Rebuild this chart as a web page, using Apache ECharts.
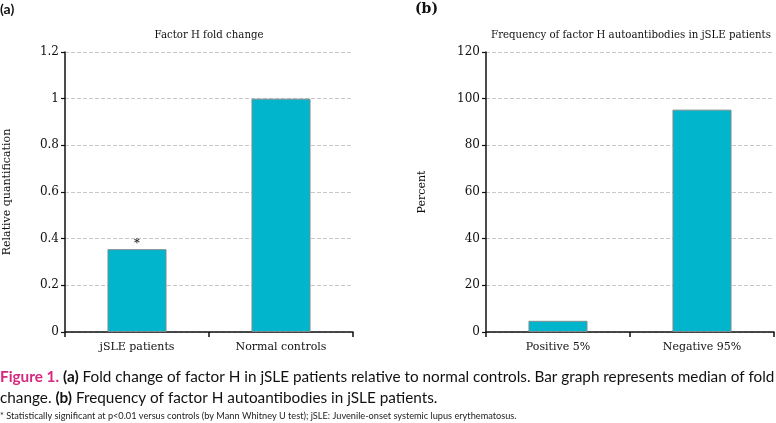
<!DOCTYPE html>
<html>
<head>
<meta charset="utf-8">
<script src="https://cdn.jsdelivr.net/npm/echarts@6/dist/echarts.min.js"></script>
<style>
  html, body { margin: 0; padding: 0; background: #fff; }
  #fig { width: 776px; height: 423px; }
</style>
</head>
<body>
<div id="fig"></div>
<script>
// panel (a)
var foldCategories = ['jSLE patients', 'Normal controls'];
var foldValues = [0.355, 1.0];
var foldMarks = ['*', ''];
// panel (b)
var freqCategories = ['Positive 5%', 'Negative 95%'];
var freqValues = [4.8, 95.3];

var serif = '"DejaVu Serif", "Liberation Serif", serif';
var sans = 'Lato, "Noto Sans", sans-serif';
var barColor = '#00b5cc';

var myChart = echarts.init(document.querySelector('#fig'), null, { renderer: 'canvas' });

function yAxisOf(gridIndex, name, max, interval, gap) {
  return {
    type: 'value', gridIndex: gridIndex, min: 0, max: max, interval: interval,
    name: name, nameLocation: 'middle', nameGap: gap, nameRotate: 90,
    nameTextStyle: { fontFamily: serif, fontSize: 11, color: '#111' },
    axisLine: { show: true, lineStyle: { color: '#111', width: 1.5 } },
    axisTick: { show: true, length: 4, lineStyle: { color: '#111', width: 1.2 } },
    axisLabel: { fontFamily: serif, fontSize: 12, color: '#111', margin: 6 },
    splitLine: { show: true, lineStyle: { color: '#c8c8c8', type: [4, 2], width: 1 } }
  };
}

function xAxisOf(gridIndex, cats) {
  return {
    type: 'category', gridIndex: gridIndex, data: cats,
    axisLine: { show: true, lineStyle: { color: '#111', width: 1.5 } },
    axisTick: { show: true, length: 5, alignWithLabel: false, lineStyle: { color: '#111', width: 1.5 } },
    axisLabel: { fontFamily: serif, fontSize: 11, color: '#111', margin: 10 }
  };
}

var foldData = foldValues.map(function (v, i) {
  return { value: v, label: { show: foldMarks[i] !== '', formatter: foldMarks[i] } };
});

option = {
  animation: false,
  backgroundColor: '#fff',
  grid: [
    { left: 65, top: 52, width: 288, height: 280 },
    { left: 486, top: 52, width: 288, height: 280 }
  ],
  xAxis: [xAxisOf(0, foldCategories), xAxisOf(1, freqCategories)],
  yAxis: [
    yAxisOf(0, 'Relative quantification', 1.2, 0.2, 52),
    yAxisOf(1, 'Percent', 120, 20, 58)
  ],
  series: [
    {
      type: 'bar', xAxisIndex: 0, yAxisIndex: 0, data: foldData, barWidth: '41%',
      itemStyle: { color: barColor, borderColor: '#7f8c8f', borderWidth: 1 },
      label: { position: 'top', distance: 1, fontSize: 11, fontWeight: 'bold', color: '#222', fontFamily: serif }
    },
    {
      type: 'bar', xAxisIndex: 1, yAxisIndex: 1, data: freqValues, barWidth: '41%',
      itemStyle: { color: barColor, borderColor: '#7f8c8f', borderWidth: 1 }
    }
  ],
  graphic: [
    { type: 'text', x: 209, y: 30,
      style: { text: 'Factor H fold change', font: '10.2px ' + serif, fill: '#111', align: 'center' } },
    { type: 'text', x: 631, y: 30,
      style: { text: 'Frequency of factor H autoantibodies in jSLE patients', font: '10.2px ' + serif, fill: '#111', align: 'center' } },
    { type: 'text', left: 0, top: 2,
      style: { text: '(a)', font: 'bold 14px ' + sans, fill: '#111' } },
    { type: 'text', left: 415, top: 2,
      style: { text: '(b)', font: 'bold 14px ' + serif, fill: '#111' } },
    { type: 'text', left: 0, top: 367,
      style: {
        text: '{m|Figure 1.} {b|(a)} Fold change of factor H in jSLE patients relative to normal controls. Bar graph represents median of fold\nchange. {b|(b)} Frequency of factor H autoantibodies in jSLE patients.',
        font: '15.3px ' + sans, fill: '#111', lineHeight: 21,
        rich: {
          m: { fontFamily: sans, fontSize: 15.3, fontWeight: 'bold', fill: '#d6287f' },
          b: { fontFamily: sans, fontSize: 15.3, fontWeight: 'bold', fill: '#111' }
        }
      } },
    { type: 'text', left: 0, top: 412,
      style: { text: '* Statistically significant at p<0.01 versus controls (by Mann Whitney U test); jSLE: Juvenile-onset systemic lupus erythematosus.',
        font: '9.2px ' + sans, fill: '#222' } }
  ]
};

myChart.setOption(option);
</script>
</body>
</html>
